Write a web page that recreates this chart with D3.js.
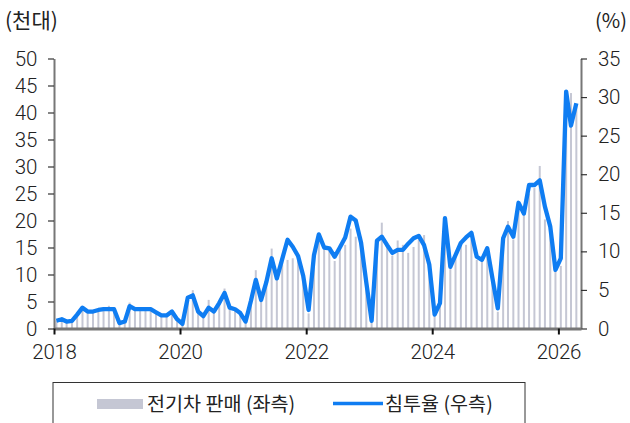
<!DOCTYPE html>
<html>
<head>
<meta charset="utf-8">
<script src="https://cdn.jsdelivr.net/npm/d3@7"></script>
<style>
  body { margin: 0; background: #fff; }
  svg text { fill: #222; }
  .tick text { font-family: Roboto, "Noto Sans", sans-serif; font-size: 20.5px; font-weight: 300; letter-spacing: -0.3px; }
</style>
</head>
<body>
<svg id="chart" width="630" height="423"></svg>
<script>
// monthly data, Jan 2018 - Apr 2026
var startYear = 2018;

// 전기차 판매 (천대)
var evSales = [
  1.5, 1.8, 1.4, 1.5, 2.6, 3.8, 3.2, 3.2, 3.5, 3.6, 4.2, 3.6,
  1.0, 1.3, 4.8, 3.6, 3.6, 3.6, 3.6, 3.0, 2.5, 2.5, 3.3, 1.8,
  1.0, 6.0, 7.1, 3.4, 2.5, 5.3, 3.4, 5.0, 7.4, 4.0, 3.8, 3.0,
  1.4, 5.5, 10.8, 5.5, 9.0, 14.8, 9.5, 12.5, 12.7, 13.0, 13.5, 10.0,
  2.8, 13.5, 16.5, 15.1, 14.5, 12.5, 15.5, 15.5, 18.5, 17.0, 17.0, 8.0,
  1.6, 15.5, 19.6, 15.5, 13.5, 16.3, 15.5, 14.0, 15.1, 16.5, 17.3, 12.0,
  2.5, 4.5, 20.0, 11.0, 13.5, 15.5, 15.5, 16.5, 12.7, 12.7, 14.0, 9.0,
  3.1, 16.0, 19.9, 16.5, 22.0, 21.0, 25.0, 26.0, 30.1, 20.2, 17.5, 12.1,
  11.6, 44.0, 43.6, 41.5
];

// 침투율 (%)
var penetration = [
  1.0, 1.2, 0.9, 1.0, 1.8, 2.7, 2.2, 2.2, 2.4, 2.5, 2.5, 2.5,
  0.7, 0.9, 2.9, 2.5, 2.5, 2.5, 2.5, 2.1, 1.7, 1.7, 2.2, 1.2,
  0.6, 4.0, 4.3, 2.2, 1.6, 2.7, 2.2, 3.3, 4.6, 2.7, 2.5, 2.0,
  0.9, 3.6, 6.3, 3.7, 6.0, 9.1, 6.5, 9.0, 11.5, 10.6, 9.4, 6.8,
  2.4, 9.5, 12.2, 10.5, 10.4, 9.3, 10.5, 11.8, 14.5, 14.0, 11.1, 6.0,
  1.0, 11.4, 11.9, 10.8, 9.8, 10.2, 10.2, 11.0, 11.7, 12.0, 10.8, 8.3,
  1.8, 3.3, 14.3, 8.0, 9.5, 11.1, 11.8, 12.4, 9.3, 8.9, 10.4, 6.5,
  2.6, 11.7, 13.2, 11.9, 16.3, 14.9, 18.6, 18.6, 19.2, 15.8, 13.2, 7.6,
  9.1, 30.7, 26.3, 29.2
];

var leftTicks = [0, 5, 10, 15, 20, 25, 30, 35, 40, 45, 50];
var rightTicks = [0, 5, 10, 15, 20, 25, 30, 35];
var yearTicks = [2018, 2020, 2022, 2024, 2026];

var legendLabels = ['전기차 판매 (좌측)', '침투율 (우측)'];

var barColor = '#c5c7d4',
  lineColor = '#0f7df2',
  axisColor = '#777';

var svg = d3.select('#chart');
var margin = { left: 54, right: 49, top: 58.5, bottom: 94.5 },
  width = 630, height = 423;

var data = evSales.map(function(v, i) {
  return {
    date: new Date(startYear, i, 15),
    sales: v,
    pct: penetration[i]
  };
});

var x = d3.scaleTime()
  .domain([new Date(startYear, 0, 1), new Date(2026, 4, 12)])
  .range([margin.left, width - margin.right]);

var yL = d3.scaleLinear().domain([0, 50]).range([height - margin.bottom, margin.top]);
var yR = d3.scaleLinear().domain([0, 35]).range([height - margin.bottom, margin.top]);

// bars
svg.append('g')
  .attr('class', 'bars')
  .selectAll('rect')
  .data(data)
  .enter().append('rect')
  .attr('x', function(d) { return x(d.date) - 1; })
  .attr('width', 2)
  .attr('y', function(d) { return yL(d.sales); })
  .attr('height', function(d) { return yL(0) - yL(d.sales); })
  .attr('fill', barColor);

// axes
var gLeft = svg.append('g')
  .attr('transform', 'translate(' + margin.left + ',0)')
  .call(d3.axisLeft(yL).tickValues(leftTicks).tickSize(6).tickSizeOuter(0).tickPadding(11));

var gRight = svg.append('g')
  .attr('transform', 'translate(' + (width - margin.right) + ',0)')
  .call(d3.axisRight(yR).tickValues(rightTicks).tickSize(6).tickSizeOuter(0).tickPadding(11));

var gBottom = svg.append('g')
  .attr('transform', 'translate(0,' + (height - margin.bottom) + ')')
  .call(d3.axisBottom(x)
    .tickValues(yearTicks.map(function(y) { return new Date(y, 0, 1); }))
    .tickFormat(d3.timeFormat('%Y'))
    .tickSize(6).tickSizeOuter(0).tickPadding(10));

[gLeft, gRight].forEach(function(g) {
  g.select('.domain').attr('stroke', axisColor).attr('stroke-width', 2);
  g.selectAll('.tick line').attr('stroke', '#333').attr('stroke-width', 1.2);
});
gBottom.select('.domain').attr('stroke', axisColor).attr('stroke-width', 3);
gBottom.selectAll('.tick line').attr('stroke', '#111').attr('stroke-width', 2);

// line
var line = d3.line()
  .x(function(d) { return x(d.date); })
  .y(function(d) { return yR(d.pct); });

svg.append('path')
  .datum(data)
  .attr('fill', 'none')
  .attr('stroke', lineColor)
  .attr('stroke-width', 4.3)
  .attr('stroke-linejoin', 'round')
  .attr('d', line);

// unit labels
svg.append('text')
  .attr('x', 5).attr('y', 28)
  .style('font-family', '"Noto Sans CJK KR", sans-serif')
  .style('font-size', '21px')
  .text('(천대)');

svg.append('text')
  .attr('x', 627).attr('y', 28)
  .attr('text-anchor', 'end')
  .style('font-family', '"Noto Sans CJK KR", sans-serif')
  .style('font-size', '20px')
  .text('(%)');

// legend
var legend = svg.append('g').attr('class', 'legend');
legend.append('rect')
  .attr('x', 53).attr('y', 382.5)
  .attr('width', 472).attr('height', 60)
  .attr('fill', 'none')
  .attr('stroke', '#333')
  .attr('stroke-width', 1);

legend.append('rect')
  .attr('x', 97).attr('y', 399)
  .attr('width', 46).attr('height', 10)
  .attr('fill', barColor);

legend.append('text')
  .attr('x', 147).attr('y', 411)
  .style('font-family', '"Noto Sans CJK KR", sans-serif')
  .style('font-size', '19.6px')
  .text(legendLabels[0]);

legend.append('line')
  .attr('x1', 333).attr('x2', 383)
  .attr('y1', 403.5).attr('y2', 403.5)
  .attr('stroke', lineColor)
  .attr('stroke-width', 3.5);

legend.append('text')
  .attr('x', 385).attr('y', 411)
  .style('font-family', '"Noto Sans CJK KR", sans-serif')
  .style('font-size', '19.6px')
  .text(legendLabels[1]);
</script>
</body>
</html>
